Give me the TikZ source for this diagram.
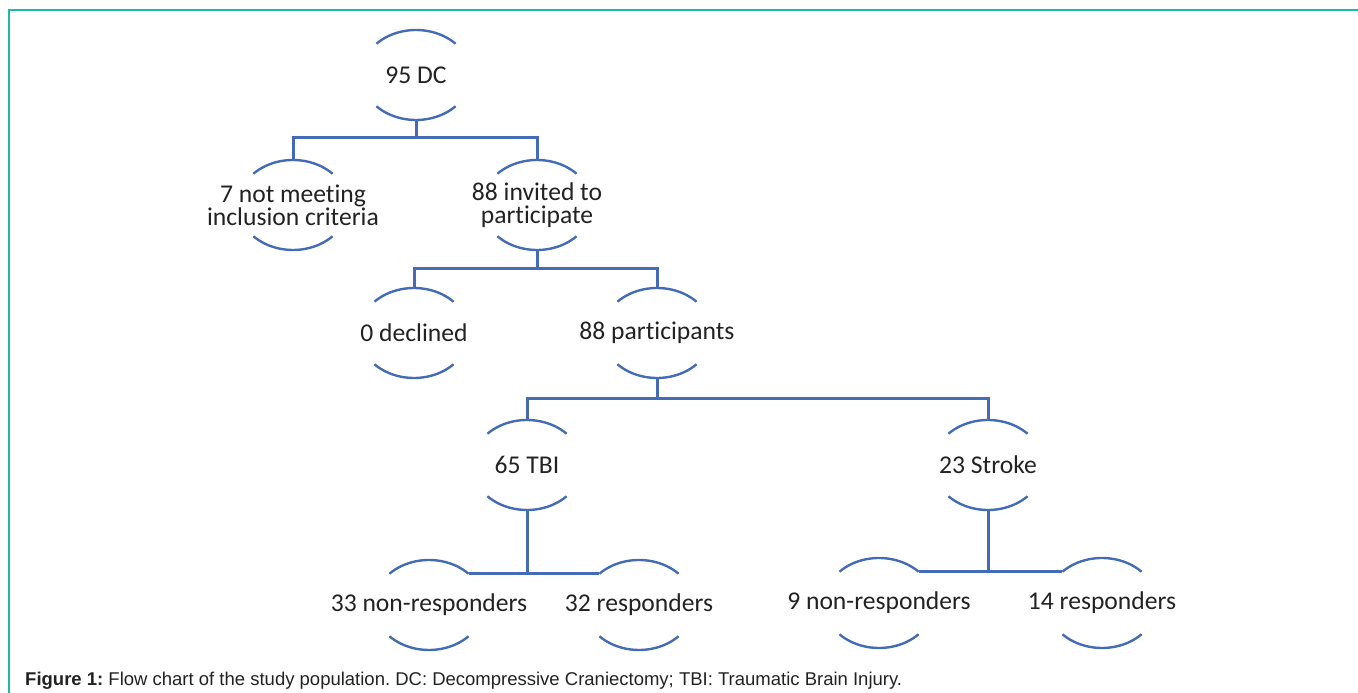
\documentclass[tikz,border=0pt]{standalone}
\usepackage{fontspec}
\setmainfont{Carlito}[Ligatures=NoCommon]
\newfontfamily\capfont{Liberation Sans}
\usepackage{xcolor}
\usepackage{tikz}
\usetikzlibrary{calc}
\frenchspacing

\definecolor{flowblue}{RGB}{68,108,182}
\definecolor{frameteal}{RGB}{32,186,160}
\definecolor{txtgray}{RGB}{34,34,34}

\tikzset{
    box/.style={minimum width=110pt, minimum height=90pt, inner sep=0pt, align=center,
        text=txtgray, font=\fontsize{25.6}{23}\selectfont},
    ring/.style={flowblue, line width=2.4pt},
    link/.style={flowblue, line width=3pt},
}

\begin{document}
\begin{tikzpicture}[x=1pt, y=1pt]
    \useasboundingbox (0,0) rectangle (1358,693);
    \draw [frameteal, line width=2pt] (9,0) -- (9,683) -- (1358,683);

    \node [box] at (416,618) (dc) {95 DC};
    \node [box] at (293,488) (excl) {7 not meeting\\inclusion criteria};
    \node [box] at (537,488) (inv) {88 invited to\\participate};
    \node [box] at (414,360) (decl) {0 declined};
    \node [box] at (657,360) (part) {88 participants};
    \node [box] at (527,228) (tbi) {65 TBI};
    \node [box] at (988,228) (stroke) {23 Stroke};
    \node [box] at (429,88) (tnr) {33 non-responders};
    \node [box] at (639,88) (tr) {32 responders};
    \node [box] at (879,90) (snr) {9 non-responders};
    \node [box] at (1102,90) (sr) {14 responders};

    \foreach \n in {dc,excl,inv,decl,part,tbi,stroke,tnr,tr,snr,sr} {
        \draw [ring] ([shift={(44:55pt and 45pt)}]\n.center) arc [start angle=44, end angle=136, x radius=55pt, y radius=45pt];
        \draw [ring] ([shift={(224:55pt and 45pt)}]\n.center) arc [start angle=224, end angle=316, x radius=55pt, y radius=45pt];
    }

    \draw [link] (dc.south) -- ++(0,-17) coordinate (j1);
    \draw [link] (excl.north) |- (j1) -| (inv.north);
    \draw [link] (inv.south) -- ++(0,-18) coordinate (j2);
    \draw [link] (decl.north) |- (j2) -| (part.north);
    \draw [link] (part.south) -- ++(0,-20) coordinate (j3);
    \draw [link] (tbi.north) |- (j3) -| (stroke.north);

    \coordinate (tnr-r) at ([shift={(44:55pt and 45pt)}]tnr.center);
    \coordinate (tr-l) at ([shift={(136:55pt and 45pt)}]tr.center);
    \coordinate (snr-r) at ([shift={(44:55pt and 45pt)}]snr.center);
    \coordinate (sr-l) at ([shift={(136:55pt and 45pt)}]sr.center);
    \draw [link] (tbi.south) -- (tbi.south |- tnr-r);
    \draw [link] (tnr-r) -- (tr-l);
    \draw [link] (stroke.south) -- (stroke.south |- snr-r);
    \draw [link] (snr-r) -- (sr-l);

    \node [anchor=base west, inner sep=0pt, text=txtgray, font=\capfont\fontsize{18.5}{22}\selectfont] at (25,7) (cap)
        {\textbf{Figure 1:} Flow chart of the study population. DC: Decompressive Craniectomy; TBI: Traumatic Brain Injury.};
\end{tikzpicture}
\end{document}
